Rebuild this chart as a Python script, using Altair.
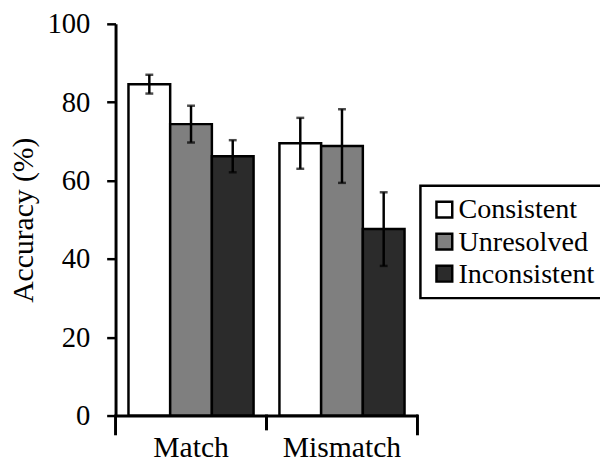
import altair as alt
import pandas as pd

groups = ["Match", "Mismatch"]
conditions = ["Consistent", "Unresolved", "Inconsistent"]
colors = ["#ffffff", "#7f7f7f", "#2b2b2b"]
match_acc = [84.6, 74.4, 66.2]
match_err = [2.4, 4.7, 4.1]
mismatch_acc = [69.5, 68.8, 47.6]
mismatch_err = [6.5, 9.4, 9.4]
y_ticks = [0, 20, 40, 60, 80, 100]

rows = []
for g, accs, errs in [("Match", match_acc, match_err), ("Mismatch", mismatch_acc, mismatch_err)]:
    for c, a, e in zip(conditions, accs, errs):
        rows.append({"group": g, "cond": c, "acc": a, "lo": a - e, "hi": a + e})
df = pd.DataFrame(rows)
bounds = pd.DataFrame({"group": groups})

FONT = "Liberation Serif"
W, H = 306, 397
FS = 30
LFS = 28.5

x = alt.X("group:N", sort=groups, scale=alt.Scale(paddingInner=0, paddingOuter=0),
          axis=alt.Axis(title=None, ticks=False, labelAngle=0, labelFontSize=FS,
                        labelBaseline="alphabetic", labelPadding=41,
                        labelColor="black", domainColor="black",
                        domainWidth=3, labelFont=FONT))
xo = alt.XOffset("cond:N", sort=conditions, scale=alt.Scale(paddingInner=0, paddingOuter=0.31))

bars = alt.Chart(df).mark_bar(stroke="black", strokeWidth=2.5).encode(
    x=x,
    xOffset=xo,
    y=alt.Y("acc:Q", scale=alt.Scale(domain=[0, 100], nice=False),
            axis=alt.Axis(values=y_ticks, grid=False, tickSize=9, tickWidth=2.5,
                          tickColor="black", domainColor="black", domainWidth=3,
                          labelFontSize=29, labelPadding=17, labelColor="black",
                          labelFont=FONT,
                          title="Accuracy (%)", titleFontSize=FS, titleFont=FONT,
                          titleFontWeight="normal", titleColor="black",
                          titleX=-84, titleY=H / 2, titleAngle=-90,
                          titleBaseline="alphabetic", titleAlign="center")),
    fill=alt.Fill("cond:N", sort=conditions,
                  scale=alt.Scale(domain=conditions, range=colors),
                  legend=alt.Legend(title=None, orient="none", legendX=309, legendY=164,
                                    symbolType="square", symbolSize=256,
                                    symbolStrokeColor="black", symbolStrokeWidth=2.5,
                                    labelFontSize=LFS, labelFont=FONT, labelColor="black",
                                    labelOffset=0, rowPadding=3.5, padding=10,
                                    strokeColor="black", fillColor="white",
                                    labelLimit=400)),
)

whisk = alt.Chart(df).mark_rule(color="black", strokeWidth=2.5).encode(
    x=alt.X("group:N", sort=groups), xOffset=xo, y="lo:Q", y2="hi:Q")
cap_lo = alt.Chart(df).mark_tick(color="black", size=8, thickness=2.5, orient="horizontal").encode(
    x=alt.X("group:N", sort=groups), xOffset=xo, y="lo:Q")
cap_hi = alt.Chart(df).mark_tick(color="black", size=8, thickness=2.5, orient="horizontal").encode(
    x=alt.X("group:N", sort=groups), xOffset=xo, y="hi:Q")

left_tick = alt.Chart(bounds).transform_filter(alt.datum.group == "Match").mark_rule(
    color="black", strokeWidth=3).encode(
    x=alt.X("group:N", sort=groups, bandPosition=0), y=alt.value(H - 1), y2=alt.value(H + 20))
mid_tick = alt.Chart(bounds).transform_filter(alt.datum.group == "Mismatch").mark_rule(
    color="black", strokeWidth=3).encode(
    x=alt.X("group:N", sort=groups, bandPosition=0), y=alt.value(H - 1), y2=alt.value(H + 15))
right_tick = alt.Chart(bounds).transform_filter(alt.datum.group == "Mismatch").mark_rule(
    color="black", strokeWidth=3).encode(
    x=alt.X("group:N", sort=groups, bandPosition=1), y=alt.value(H - 1), y2=alt.value(H + 20))

chart = alt.layer(bars, whisk, cap_lo, cap_hi, left_tick, mid_tick, right_tick).properties(
    width=W, height=H,
    autosize=alt.AutoSizeParams(type="none"),
    padding={"left": 109, "top": 13, "right": 185, "bottom": 43},
).configure(font=FONT).configure_view(stroke=None).configure_legend(
    strokeWidth=2.5, labelFont=FONT, labelFontSize=LFS, labelColor="black")

chart.save("out.html", embed_options={"renderer": "svg", "actions": False})
